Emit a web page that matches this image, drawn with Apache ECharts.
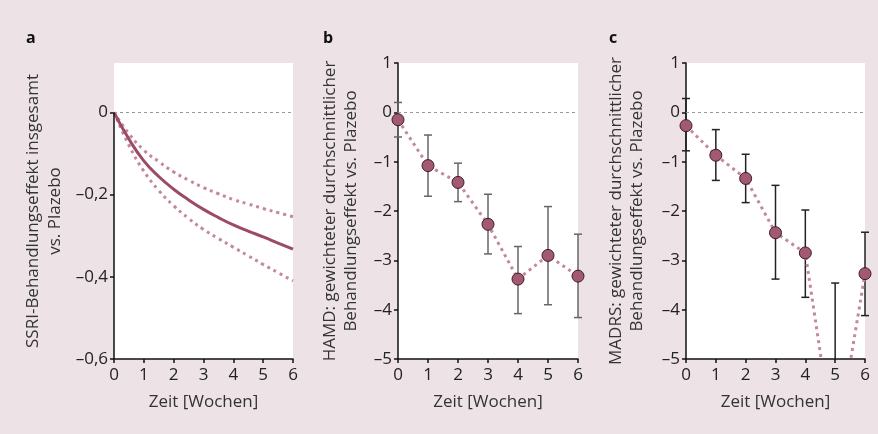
<!DOCTYPE html>
<html>
<head>
<meta charset="utf-8">
<script src="https://cdn.jsdelivr.net/npm/echarts@6/dist/echarts.min.js"></script>
<style>
  html, body { margin: 0; padding: 0; background: #ede3e7; }
  #chart { width: 878px; height: 434px; }
</style>
</head>
<body>
<div id="chart"></div>
<script>
// panel a: modelled effect over time
const weeksA = [0, 0.5, 1, 1.5, 2, 2.5, 3, 3.5, 4, 4.5, 5, 5.5, 6]
const effectA = [0, -0.065, -0.118, -0.156, -0.187, -0.213, -0.236, -0.256, -0.274, -0.289, -0.303, -0.318, -0.333]
const upperA = [0, -0.052, -0.092, -0.12, -0.145, -0.165, -0.183, -0.198, -0.212, -0.223, -0.234, -0.244, -0.254]
const lowerA = [0, -0.08, -0.143, -0.19, -0.227, -0.258, -0.285, -0.307, -0.328, -0.349, -0.37, -0.39, -0.41]
const ticksA = [-0.6, -0.4, -0.2, 0]

// panels b and c: weekly means with error bars
const weeks = [0, 1, 2, 3, 4, 5, 6]
const meanB = [-0.15, -1.08, -1.42, -2.27, -3.38, -2.9, -3.32]
const lowB = [-0.5, -1.7, -1.81, -2.87, -4.08, -3.9, -4.16]
const highB = [0.2, -0.46, -1.03, -1.66, -2.72, -1.91, -2.47]

const meanC = [-0.27, -0.87, -1.34, -2.44, -2.85, -6.9, -3.27]
const lowC = [-0.78, -1.38, -1.83, -3.38, -3.75, -10.3, -4.12]
const highC = [0.28, -0.35, -0.85, -1.48, -1.98, -3.46, -2.43]

const FONT = "'Open Sans', 'Noto Sans', sans-serif"
const TEXT = '#222'
const SOLID = '#9b4b65'
const DOTS = '#c4889b'
const MARK = '#a35a70'

const fmt = (v) => {
    const s = String(Math.round(v * 10) / 10).replace('.', ',')
    return v < 0 ? '\u2013' + s.slice(1) : s
}

const grids = [
    { left: 114, width: 179, top: 63, bottom: 75 },
    { left: 398, width: 180, top: 63, bottom: 75 },
    { left: 686, width: 179, top: 63, bottom: 75 },
].map(g => Object.assign(g, { show: true, backgroundColor: '#fff', borderWidth: 0 }))

function xAxisFor(gridIndex){
    return {
        type: 'value', gridIndex, min: 0, max: 6, interval: 1,
        name: 'Zeit [Wochen]', nameLocation: 'middle', nameGap: 35,
        nameTextStyle: { fontFamily: FONT, fontSize: 17, color: '#333' },
        axisLine: { onZero: false, lineStyle: { color: '#111', width: 1.5 } },
        axisTick: { length: 4, lineStyle: { color: '#111', width: 1.5 } },
        axisLabel: { fontFamily: FONT, fontSize: 17, color: TEXT, margin: 8 },
        splitLine: { show: false }
    }
}

function yAxisFor(gridIndex, name, nameGap, extra){
    return Object.assign({
        type: 'value', gridIndex,
        name, nameLocation: 'middle', nameGap, nameRotate: 90,
        nameTextStyle: { fontFamily: FONT, fontSize: 17, color: '#333', lineHeight: 21 },
        axisLine: { show: true, lineStyle: { color: '#111', width: 1.5 } },
        axisTick: { show: true, length: 4, lineStyle: { color: '#111', width: 1.5 } },
        axisLabel: { fontFamily: FONT, fontSize: 17, color: TEXT, margin: 6, formatter: fmt },
        splitLine: { show: false }
    }, extra)
}

function zeroLine(){
    return {
        silent: true, symbol: 'none', label: { show: false },
        lineStyle: { color: '#999', type: [3, 3], width: 1 },
        data: [{ yAxis: 0 }]
    }
}

function errorBars(xi, means, lows, highs, color){
    return {
        type: 'custom', xAxisIndex: xi, yAxisIndex: xi, z: 2,
        data: weeks.map((w, i) => [w, lows[i], highs[i]]),
        encode: { x: 0, y: [1, 2] },
        renderItem: (params, api) => {
            const x = api.value(0), lo = api.value(1), hi = api.value(2)
            const floor = -5
            const top = api.coord([x, hi])
            const bot = api.coord([x, Math.max(lo, floor)])
            const st = { stroke: color, lineWidth: 1.5 }
            const kids = [{ type: 'line', shape: { x1: top[0], y1: top[1], x2: bot[0], y2: bot[1] }, style: st }]
            kids.push({ type: 'line', shape: { x1: top[0] - 4, y1: top[1], x2: top[0] + 4, y2: top[1] }, style: st })
            if (lo >= floor) {
                kids.push({ type: 'line', shape: { x1: bot[0] - 4, y1: bot[1], x2: bot[0] + 4, y2: bot[1] }, style: st })
            }
            return { type: 'group', children: kids }
        }
    }
}

function meanLine(xi, means){
    return {
        type: 'line', xAxisIndex: xi, yAxisIndex: xi, z: 3,
        data: weeks.map((w, i) => [w, means[i]]),
        symbol: 'circle', symbolSize: 12,
        itemStyle: { color: MARK, borderColor: '#3a1b27', borderWidth: 1 },
        lineStyle: { color: DOTS, width: 3, type: [3, 4] },
        markLine: zeroLine()
    }
}

function curve(data, dotted){
    return {
        type: 'line', xAxisIndex: 0, yAxisIndex: 0, smooth: 0.5, symbol: 'none',
        data: weeksA.map((w, i) => [w, data[i]]),
        lineStyle: dotted
            ? { color: DOTS, width: 3, type: [3, 4] }
            : { color: SOLID, width: 3 }
    }
}

const option = {
    backgroundColor: '#ede3e7',
    animation: false,
    title: [
        { text: 'a', left: 21, top: 25 },
        { text: 'b', left: 318, top: 25 },
        { text: 'c', left: 604, top: 25 },
    ].map(t => Object.assign(t, { textStyle: { fontFamily: FONT, fontSize: 16, fontWeight: 'bold', color: '#111' } })),
    grid: grids,
    xAxis: [xAxisFor(0), xAxisFor(1), xAxisFor(2)],
    yAxis: [
        yAxisFor(0, 'SSRI-Behandlungseffekt insgesamt\nvs. Plazebo', 48, {
            min: -0.6, max: 0.12,
            nameTextStyle: { fontFamily: FONT, fontSize: 17, color: '#333', lineHeight: 22 },
            axisLine: { show: false },
            axisTick: { show: true, length: 4, customValues: ticksA, lineStyle: { color: '#111', width: 1.5 } },
            axisLabel: { fontFamily: FONT, fontSize: 17, color: TEXT, margin: 6, formatter: fmt, customValues: ticksA }
        }),
        yAxisFor(1, 'HAMD: gewichteter durchschnittlicher\nBehandlungseffekt vs. Plazebo', 36, { min: -5, max: 1, interval: 1 }),
        yAxisFor(2, 'MADRS: gewichteter durchschnittlicher\nBehandlungseffekt vs. Plazebo', 38, { min: -5, max: 1, interval: 1 }),
    ],
    series: [
        Object.assign(curve(upperA, true), {
            markLine: zeroLine()
        }),
        curve(lowerA, true),
        Object.assign(curve(effectA, false), {
            // left axis line of panel a only runs from 0 down to -0.6
            markLine: {
                silent: true, symbol: 'none', label: { show: false },
                lineStyle: { color: '#111', type: 'solid', width: 1.5 },
                data: [[{ coord: [0, 0] }, { coord: [0, -0.6] }]]
            }
        }),
        errorBars(1, meanB, lowB, highB, '#666'),
        meanLine(1, meanB),
        errorBars(2, meanC, lowC, highC, '#222'),
        meanLine(2, meanC),
    ]
}

const chart = echarts.init(document.getElementById('chart'))
chart.setOption(option)
</script>
</body>
</html>
